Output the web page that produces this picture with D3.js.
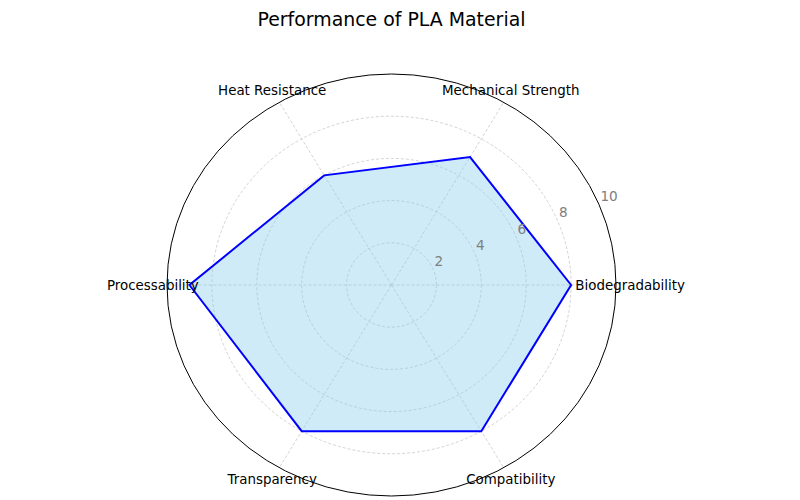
<!DOCTYPE html>
<html><head><meta charset="utf-8">
<script src="https://cdn.jsdelivr.net/npm/d3@7"></script>
<style>body{margin:0;background:#fff}svg{display:block}text{font-family:"DejaVu Sans",sans-serif}</style>
</head><body>
<script>
const categories = ["Biodegradability","Mechanical Strength","Heat Resistance","Processability","Transparency","Compatibility"];
const values = [8,7,6,9,8,8];
const radialTicks = [2,4,6,8,10];
const title = "Performance of PLA Material";

const W=800,H=500, cx=391.5, cy=285, rx=224.5, ry=211;
const svg=d3.select("body").append("svg").attr("width",W).attr("height",H);
const r=d3.scaleLinear().domain([0,10]).range([0,1]);
const ang=d3.scaleLinear().domain([0,categories.length]).range([0,2*Math.PI]);
const px=(v,i)=>cx+r(v)*rx*Math.cos(ang(i));
const py=(v,i)=>cy-r(v)*ry*Math.sin(ang(i));

const g=svg.append("g");
radialTicks.filter(t=>t<10).forEach(t=>{
  g.append("ellipse").attr("cx",cx).attr("cy",cy).attr("rx",r(t)*rx).attr("ry",r(t)*ry)
   .attr("fill","none").attr("stroke","#c8c8c8").attr("stroke-width",0.8).attr("stroke-dasharray","3,2");
});
categories.forEach((c,i)=>{
  g.append("line").attr("x1",cx).attr("y1",cy).attr("x2",px(10,i)).attr("y2",py(10,i))
   .attr("stroke","#c8c8c8").attr("stroke-width",0.8).attr("stroke-dasharray","3,2");
});
const pts=values.map((v,i)=>[px(v,i),py(v,i)]);
const line=d3.line().curve(d3.curveLinearClosed);
g.append("path").attr("d",line(pts)).attr("fill","#87CEEB").attr("fill-opacity",0.4).attr("stroke","none");
g.append("path").attr("d",line(pts)).attr("fill","none").attr("stroke","#0000ff").attr("stroke-width",2).attr("stroke-linejoin","miter");
g.append("ellipse").attr("cx",cx).attr("cy",cy).attr("rx",rx).attr("ry",ry).attr("fill","none").attr("stroke","#000").attr("stroke-width",1);
const a0=22.5*Math.PI/180;
radialTicks.forEach(t=>{
  svg.append("text").attr("x",cx+r(t)*rx*Math.cos(a0)+1.5).attr("y",cy-r(t)*ry*Math.sin(a0)-8)
   .attr("text-anchor","start").attr("dominant-baseline","central").attr("font-size",13.6).attr("fill","#808080").text(t);
});
categories.forEach((c,i)=>{
  svg.append("text").attr("x",px(10.63,i)).attr("y",py(10.63,i)).attr("text-anchor","middle")
   .attr("dominant-baseline","central").attr("font-size",13.4).attr("fill","#000").text(c);
});
svg.append("text").attr("x",391.5).attr("y",19).attr("text-anchor","middle").attr("dominant-baseline","central")
 .attr("font-size",18.9).attr("fill","#000").text(title);
</script>
</body></html>
